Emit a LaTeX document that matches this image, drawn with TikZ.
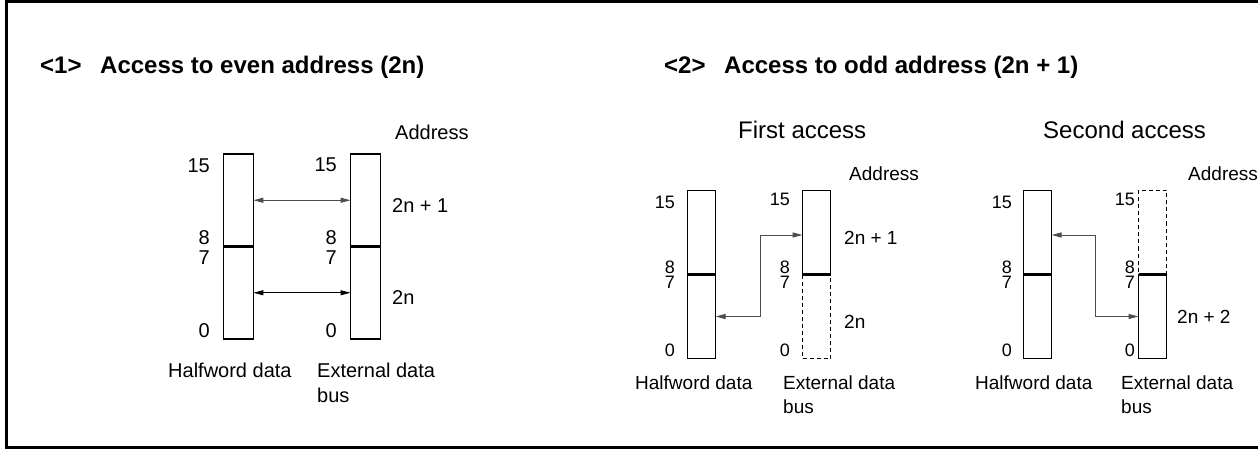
\documentclass[tikz,border=0pt]{standalone}
\usepackage{fontspec}
\setmainfont{Liberation Sans}
\usetikzlibrary{arrows.meta}
\begin{document}
\begin{tikzpicture}[x=1pt,y=-1pt,
  half1/.style={draw, line width=1.7pt, minimum width=30pt, minimum height=92.5pt, inner sep=0pt, outer sep=0pt},
  half2/.style={draw, line width=1.7pt, minimum width=28pt, minimum height=84pt, inner sep=0pt, outer sep=0pt},
  dhalf2/.style={half2, dash pattern=on 4pt off 3pt},
  divider/.style={line width=2.6pt},
  link/.style={draw=black!70, line width=1pt, {Triangle[length=10pt,width=5pt]}-{Triangle[length=10pt,width=5pt]}},
  linkb/.style={link, draw=black},
  ttl/.style={font=\fontsize{24}{28}\bfseries\selectfont, inner sep=0pt, anchor=base west},
  sub/.style={font=\fontsize{24}{28}\selectfont, inner sep=0pt, anchor=base west},
  laba/.style={font=\fontsize{20}{24}\selectfont, inner sep=0pt},
  labb/.style={font=\fontsize{19}{23}\selectfont, inner sep=0pt},
  digb/.style={font=\fontsize{18}{21}\selectfont, inner sep=0pt, anchor=base east},
]
\useasboundingbox (0,0) rectangle (1258,449);
% frame
\draw[line width=3pt] (1258,2) -- (6,2) -- (6,447) -- (1258,447);

% titles
\node[ttl] (t1n) at (40,73.6) {<1>};
\node[ttl] (t1) at (100,73.6) {Access to even address (2n)};
\node[ttl] (t2n) at (664,73.6) {<2>};
\node[ttl] (t2) at (724,73.6) {Access to odd address (2n + 1)};

% ---------- section 1 ----------
\node[half1] (h1u) at (238.4,200.25) {};
\node[half1] (h1l) at (238.4,292.75) {};
\node[half1] (e1u) at (365.5,200.25) {};
\node[half1] (e1l) at (365.5,292.75) {};
\draw[divider] (h1u.south west) -- (h1u.south east);
\draw[divider] (e1u.south west) -- (e1u.south east);
\draw[link] (h1u.east) -- (e1u.west);
\draw[linkb] (h1l.east) -- (e1l.west);

\node[laba, anchor=base east] (a15) at (210,172.4) {15};
\node[laba, anchor=base east] (a8) at (210,244.4) {8};
\node[laba, anchor=base east] (a7) at (210,264.4) {7};
\node[laba, anchor=base east] (a0) at (210,337.4) {0};
\node[laba, anchor=base east] (b15) at (337,171.4) {15};
\node[laba, anchor=base east] (b8) at (337,244.4) {8};
\node[laba, anchor=base east] (b7) at (337,264.4) {7};
\node[laba, anchor=base east] (b0) at (337,337.4) {0};
\node[laba, anchor=base west] (ad1) at (395,139.4) {Address};
\node[laba, anchor=base west] (x1u) at (392,212.4) {2n + 1};
\node[laba, anchor=base west] (x1l) at (392,304.4) {2n};
\node[laba, anchor=base west] (hw1) at (168,377.4) {Halfword data};
\node[laba, anchor=base west] (ed1) at (317,377.4) {External data};
\node[laba, anchor=base west] (bs1) at (317,402.4) {bus};

% ---------- section 2: first access ----------
\node[sub] (fa) at (738,138.6) {First access};
\node[half2] (h2u) at (701.5,232.5) {};
\node[half2] (h2l) at (701.5,316.5) {};
\node[dhalf2] (e2l) at (816.5,316.5) {};
\node[half2] (e2u) at (816.5,232.5) {};
\draw[divider] (h2u.south west) -- (h2u.south east);
\draw[divider] (e2u.south west) -- (e2u.south east);
\coordinate (k2) at (760,235);
\draw[link] (h2l.east) -| (k2) -- (k2 -| e2u.west);

\node[digb] (c15) at (675,208.4) {15};
\node[digb] (c8) at (675,273.0) {8};
\node[digb] (c7) at (675,288.6) {7};
\node[digb] (c0) at (675,356.4) {0};
\node[digb] (d15) at (790,205.4) {15};
\node[digb] (d8) at (790,273.0) {8};
\node[digb] (d7) at (790,288.6) {7};
\node[digb] (d0) at (790,356.4) {0};
\node[labb, anchor=base west] (ad2) at (849,180.3) {Address};
\node[labb, anchor=base west] (x2u) at (844,244.8) {2n + 1};
\node[labb, anchor=base west] (x2l) at (844,328.8) {2n};
\node[labb, anchor=base west] (hw2) at (635,389.8) {Halfword data};
\node[labb, anchor=base west] (ed2) at (783,389.8) {External data};
\node[labb, anchor=base west] (bs2) at (783,413) {bus};

% ---------- section 2: second access ----------
\node[sub] (sa) at (1043,138.6) {Second access};
\node[half2] (h3u) at (1037.5,232.5) {};
\node[half2] (h3l) at (1037.5,316.5) {};
\node[dhalf2] (e3u) at (1152.5,232.5) {};
\node[half2] (e3l) at (1152.5,316.5) {};
\draw[divider] (h3u.south west) -- (h3u.south east);
\draw[divider] (e3l.north west) -- (e3l.north east);
\coordinate (k3) at (1095,235);
\draw[link] (e3l.west) -| (k3) -- (k3 -| h3u.east);

\node[digb] (f15) at (1012,208.4) {15};
\node[digb] (f8) at (1012,273.0) {8};
\node[digb] (f7) at (1012,288.6) {7};
\node[digb] (f0) at (1012,356.4) {0};
\node[digb] (g15) at (1135,205.4) {15};
\node[digb] (g8) at (1135,273.0) {8};
\node[digb] (g7) at (1135,288.6) {7};
\node[digb] (g0) at (1135,356.4) {0};
\node[labb, anchor=base west] (ad3) at (1188,180.3) {Address};
\node[labb, anchor=base west] (x3l) at (1177,323.8) {2n + 2};
\node[labb, anchor=base west] (hw3) at (975,389.8) {Halfword data};
\node[labb, anchor=base west] (ed3) at (1121,389.8) {External data};
\node[labb, anchor=base west] (bs3) at (1121,413) {bus};
\end{tikzpicture}
\end{document}
